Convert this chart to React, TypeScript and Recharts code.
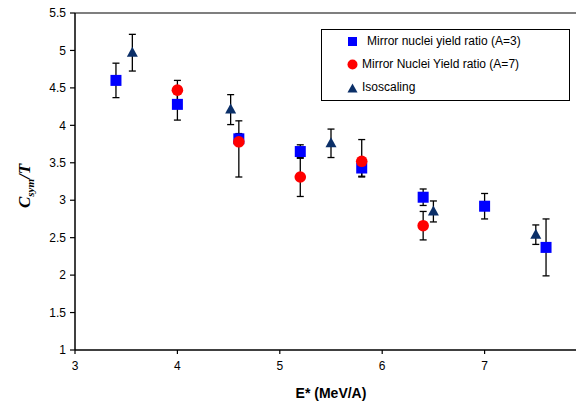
import React from 'react';
import { ScatterChart, Scatter, XAxis, YAxis, ErrorBar, Legend, ReferenceLine } from 'recharts';

// Mirror nuclei yield ratio (A=3)
const a3Energy = [3.4, 4.0, 4.6, 5.2, 5.8, 6.4, 7.0, 7.6];
const a3Csym = [4.6, 4.28, 3.82, 3.65, 3.43, 3.04, 2.92, 2.37];
const a3Err = [0.23, 0.21, 0.07, 0.09, 0.12, 0.11, 0.17, 0.38];

// Mirror Nuclei Yield ratio (A=7)
const a7Energy = [4.0, 4.6, 5.2, 5.8, 6.4];
const a7Csym = [4.47, 3.78, 3.31, 3.52, 2.66];
const a7ErrLow = [0.13, 0.47, 0.26, 0.2, 0.19];
const a7ErrHigh = [0.13, 0.28, 0.26, 0.29, 0.19];

// Isoscaling
const isoEnergy = [3.56, 4.52, 5.5, 6.5, 7.5];
const isoCsym = [4.97, 4.21, 3.76, 2.85, 2.54];
const isoErr = [0.245, 0.2, 0.19, 0.14, 0.13];

const xTicks = [3, 4, 5, 6, 7];
const yTicks = [1, 1.5, 2, 2.5, 3, 3.5, 4, 4.5, 5, 5.5];

const seriesNames = [
  'Mirror nuclei yield ratio (A=3)',
  'Mirror Nuclei Yield ratio (A=7)',
  'Isoscaling',
];

const BLUE = '#0000FF';
const RED = '#FF0000';
const NAVY = '#0B2F68';

const a3Data = a3Energy.map((e, i) => ({ e, v: a3Csym[i], err: a3Err[i] }));
const a7Data = a7Energy.map((e, i) => ({ e, v: a7Csym[i], err: [a7ErrLow[i], a7ErrHigh[i]] }));
const isoData = isoEnergy.map((e, i) => ({ e, v: isoCsym[i], err: isoErr[i] }));

const NoShape = () => null;
const SquareShape = ({ cx, cy }: any) => (
  <rect x={cx - 5.5} y={cy - 5.5} width={11} height={11} fill={BLUE} />
);
const CircleShape = ({ cx, cy }: any) => <circle cx={cx} cy={cy} r={5.8} fill={RED} />;
const TriangleShape = ({ cx, cy }: any) => (
  <polygon points={`${cx},${cy - 6} ${cx + 5.5},${cy + 4} ${cx - 5.5},${cy + 4}`} fill={NAVY} />
);

const LegendBox = () => (
  <div
    style={{
      width: 247,
      height: 70,
      border: '1px solid #000',
      background: '#fff',
      fontFamily: '"Liberation Sans", Arial, sans-serif',
      fontSize: 12,
      color: '#000',
      position: 'relative',
    }}
  >
    <svg width={12} height={12} style={{ position: 'absolute', left: 25, top: 6 }}>
      <rect x={1} y={1} width={9} height={9} fill={BLUE} />
    </svg>
    <span style={{ position: 'absolute', left: 45, top: 4 }}>{seriesNames[0]}</span>
    <svg width={12} height={12} style={{ position: 'absolute', left: 25, top: 29 }}>
      <circle cx={5.5} cy={5.5} r={5} fill={RED} />
    </svg>
    <span style={{ position: 'absolute', left: 40, top: 27 }}>{seriesNames[1]}</span>
    <svg width={12} height={12} style={{ position: 'absolute', left: 25, top: 53 }}>
      <polygon points="5.5,0.5 10.5,9.5 0.5,9.5" fill={NAVY} />
    </svg>
    <span style={{ position: 'absolute', left: 40, top: 50 }}>{seriesNames[2]}</span>
  </div>
);

const YTitle = () => (
  <text
    transform="translate(30,186) rotate(-90)"
    textAnchor="middle"
    fontFamily='"Liberation Serif", "Times New Roman", serif'
    fontWeight="bold"
    fontStyle="italic"
    fontSize={17}
    fill="#000"
  >
    <tspan>C</tspan>
    <tspan fontSize={11} dy={4}>sym</tspan>
    <tspan dy={-4}>/T</tspan>
  </text>
);

const XTitle = () => (
  <text
    x={331}
    y={398}
    textAnchor="middle"
    fontFamily='"Liberation Sans", Arial, sans-serif'
    fontWeight="bold"
    fontSize={14}
    fill="#000"
  >
    E* (MeV/A)
  </text>
);

const tickStyle = { fontFamily: '"Liberation Sans", Arial, sans-serif', fontSize: 12, fill: '#000' };

export default function App() {
  return (
    <div style={{ position: 'relative', width: 584, height: 409, margin: -8, overflow: 'hidden', background: '#fff' }}>
      <ScatterChart width={600} height={409} margin={{ top: 13, right: 13, bottom: 0, left: 0 }}>
        <XAxis
          type="number"
          dataKey="e"
          domain={[3, 8]}
          ticks={xTicks}
          allowDataOverflow
          height={59}
          tick={tickStyle}
          tickSize={4}
          tickMargin={7}
          axisLine={{ stroke: '#000', strokeWidth: 1.5 }}
          tickLine={{ stroke: '#000', strokeWidth: 1.2 }}
          label={<XTitle />}
        />
        <YAxis
          type="number"
          dataKey="v"
          domain={[1, 5.5]}
          ticks={yTicks}
          allowDataOverflow
          width={75}
          tick={tickStyle}
          tickSize={5}
          tickMargin={4}
          axisLine={{ stroke: '#000', strokeWidth: 1.5 }}
          tickLine={{ stroke: '#000', strokeWidth: 1.2 }}
          label={<YTitle />}
        />
        <ReferenceLine y={5.5} stroke="#555" strokeWidth={1.5} />
        {/* error bars first so the markers sit on top of them */}
        <Scatter data={a3Data} shape={<NoShape />} legendType="none" isAnimationActive={false}>
          <ErrorBar dataKey="err" direction="y" width={3.5} stroke="#000" strokeWidth={1.3} />
        </Scatter>
        <Scatter data={a7Data} shape={<NoShape />} legendType="none" isAnimationActive={false}>
          <ErrorBar dataKey="err" direction="y" width={3.5} stroke="#000" strokeWidth={1.3} />
        </Scatter>
        <Scatter data={isoData} shape={<NoShape />} legendType="none" isAnimationActive={false}>
          <ErrorBar dataKey="err" direction="y" width={3.5} stroke="#000" strokeWidth={1.3} />
        </Scatter>
        <Scatter name={seriesNames[0]} data={a3Data} shape={<SquareShape />} isAnimationActive={false} />
        <Scatter name={seriesNames[1]} data={a7Data} shape={<CircleShape />} isAnimationActive={false} />
        <Scatter name={seriesNames[2]} data={isoData} shape={<TriangleShape />} isAnimationActive={false} />
        <Legend
          layout="vertical"
          align="center"
          verticalAlign="middle"
          content={<LegendBox />}
          wrapperStyle={{ left: 321, top: 29, width: 249, height: 72 }}
        />
      </ScatterChart>
    </div>
  );
}
